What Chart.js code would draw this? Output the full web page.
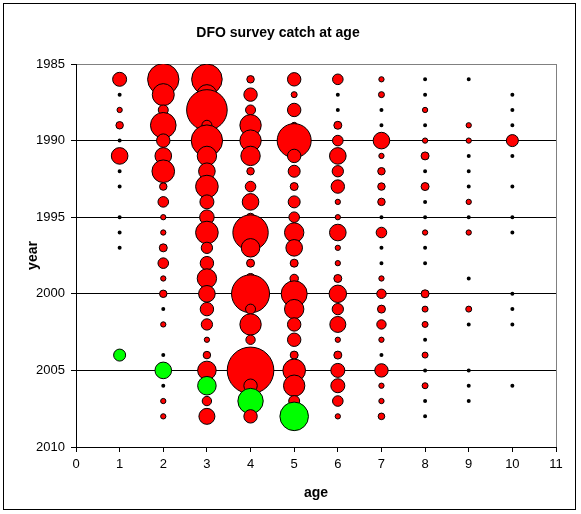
<!DOCTYPE html>
<html lang="en">
  <head>
    <meta charset="UTF-8" />
    <title>DFO survey catch at age</title>
    <script src="https://cdn.jsdelivr.net/npm/chart.js@4/dist/chart.umd.min.js"></script>
    <style>
      body { margin: 0; background: #fff; }
    </style>
  </head>
  <body>
    <canvas id="myChart" width="581" height="514"></canvas>

    <script>
      // survey years (rows) and ages (columns)
      const years = [1986, 1987, 1988, 1989, 1990, 1991, 1992, 1993, 1994, 1995, 1996, 1997,
                     1998, 1999, 2000, 2001, 2002, 2003, 2004, 2005, 2006, 2007, 2008];
      const ages = [1, 2, 3, 4, 5, 6, 7, 8, 9, 10];

      // catch index by age, one value per year (null = nothing caught)
      const age1  = [49, 1, 7, 14, 1, 69, 1, 1, null, 1, 1, 1, null, null, null, null, null, null, 36, null, null, null, null];
      const age2  = [246, 121, 25, 164, 45, 69, 128, 14, 28, 7, 7, 16, 28, 7, 14, 1, 7, null, 1, 69, 1, 7, 7];
      const age3  = [234, 100, 412, 25, 246, 94, 69, 128, 49, 53, 128, 32, 45, 94, 69, 45, 32, 7, 14, 86, 86, 22, 64];
      const age4  = [14, 45, 25, 114, 114, 94, 14, 28, 69, 16, 313, 86, 16, 25, 361, 25, 114, 22, 30, 543, 45, 161, 45];
      const age5  = [45, 9, 45, 9, 289, 45, 36, 16, 36, 28, 94, 69, 16, 18, 169, 94, 45, 45, 16, 128, 114, 30, 204];
      const age6  = [28, 1, 1, 16, 28, 69, 32, 45, 7, 7, 69, 7, 7, 16, 76, 32, 64, 7, 16, 49, 49, 28, 7];
      const age7  = [7, 9, 1, 1, 69, 7, 14, 14, 14, 1, 28, 1, 1, 7, 22, 16, 22, 7, 1, 45, 7, 7, 11];
      const age8  = [1, 1, 7, 1, 7, 16, 1, 16, 1, 1, 7, 1, 1, null, 16, 9, 9, 1, 9, 1, 9, 1, 1];
      const age9  = [1, null, null, 7, 7, 1, 1, 1, 7, 1, 7, null, null, 1, null, 9, 1, null, null, 1, 1, 1, null];
      const age10 = [null, 1, 1, 1, 36, 1, null, 1, null, 1, 1, null, null, null, 1, 1, 1, null, null, null, 1, null, null];

      const catchByAge = [age1, age2, age3, age4, age5, age6, age7, age8, age9, age10];

      // year class followed through the survey (shown in green)
      const cohort = 2003;

      const yTicks = [1985, 1990, 1995, 2000, 2005, 2010];

      // bubble area proportional to catch
      const points = [];
      years.forEach((yr, i) => {
        ages.forEach((a, j) => {
          const v = catchByAge[j][i];
          if (v != null) points.push({ x: a, y: yr, r: Math.sqrt(v), v: v });
        });
      });

      // black frame round the whole chart
      const frame = {
        id: 'frame',
        afterDraw(chart) {
          const c = chart.ctx;
          c.save();
          c.strokeStyle = '#000';
          c.lineWidth = 1;
          c.strokeRect(3.5, 3.5, 572, 506);
          c.restore();
        }
      };

      const font = { family: '"Liberation Sans", Arial, sans-serif', size: 13 };
      const bold = { family: '"Liberation Sans", Arial, sans-serif', size: 14, weight: 'bold' };

      const ctx = document.getElementById('myChart').getContext('2d');
      const myChart = new Chart(ctx, {
        type: 'bubble',
        data: {
          datasets: [
            {
              label: 'catch',
              data: points,
              backgroundColor: c => (c.raw && c.raw.y - c.raw.x === cohort ? '#00ff00' : '#ff0000'),
              borderColor: '#000',
              // the smallest catches come out as solid black dots
              borderWidth: c => (c.raw && c.raw.v <= 1 ? 2 : 1),
              hoverRadius: 0
            }
          ]
        },
        options: {
          responsive: false,
          devicePixelRatio: 1,
          animation: false,
          layout: { padding: { left: 0, top: 0, right: 25, bottom: 0 } },
          plugins: {
            legend: { display: false },
            tooltip: { enabled: false },
            title: {
              display: true,
              text: 'DFO survey catch at age',
              color: '#000',
              font: bold,
              padding: { top: 24.6, bottom: 22.6 }
            }
          },
          scales: {
            x: {
              type: 'linear',
              min: 0,
              max: 11,
              afterFit: s => { s.height = 67; },
              ticks: { stepSize: 1, color: '#000', font: font, padding: 5 },
              grid: {
                color: c => (c.tick && c.tick.value === 11 ? '#808080' : 'rgba(0,0,0,0)'),
                tickColor: '#000',
                tickLength: 5
              },
              border: { color: '#000' },
              title: { display: true, text: 'age', color: '#000', font: bold, padding: { top: 0, bottom: 12.6 } }
            },
            y: {
              type: 'linear',
              reverse: true,
              min: 1985,
              max: 2010,
              afterFit: s => { s.width = 76; },
              afterBuildTicks: s => { s.ticks = yTicks.map(v => ({ value: v })); },
              ticks: { color: '#000', font: font, padding: 6, callback: v => String(v) },
              grid: {
                color: c => {
                  if (!c.tick) return '#000';
                  if (c.tick.value === 1985) return '#808080';
                  if (c.tick.value === 2010) return 'rgba(0,0,0,0)';
                  return '#000';
                },
                tickColor: '#000',
                tickLength: 5
              },
              border: { color: '#000' },
              title: { display: true, text: 'year', color: '#000', font: bold, padding: { top: 24.6, bottom: 0 } }
            }
          }
        },
        plugins: [frame]
      });
    </script>
  </body>
</html>
